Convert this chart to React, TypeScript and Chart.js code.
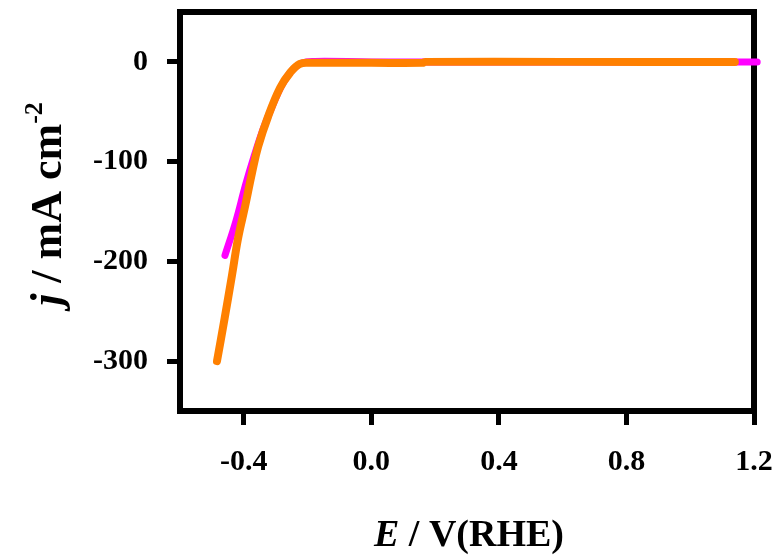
import React, { useEffect, useRef } from "react";
import { Chart, registerables } from "chart.js";

Chart.register(...registerables);

// Polarization curves (potential vs. current density)
const orangeE = [-0.484, -0.46, -0.437, -0.418, -0.396, -0.374, -0.355, -0.324, -0.286, -0.255, -0.224, -0.19, 0.0, 0.16, 0.17, 0.6, 1.14];
const orangeJ = [-300, -257, -214, -177, -145, -111, -85, -55, -26, -11, -2, -1, -1, -1, 0, 0, 0];

const magentaE = [-0.459, -0.425, -0.395, -0.368, -0.34, -0.31, -0.28, -0.25, -0.217, -0.177, 0.0, 0.4, 0.8, 1.21];
const magentaJ = [-194, -160, -124, -95, -68, -44, -23, -9, -1, 0.5, 0, 0, 0, 0];

const xTicks = [-0.4, 0.0, 0.4, 0.8, 1.2];
const yTicks = [0, -100, -200, -300];

const FONT = "'Liberation Serif', 'Times New Roman', serif";

const toPoints = (xs: number[], ys: number[]) => xs.map((x, i) => ({ x, y: ys[i] }));

const framePlugin = {
  id: "frame",
  beforeDatasetsDraw(chart: any) {
    const { ctx, chartArea } = chart;
    ctx.save();
    ctx.strokeStyle = "#000";
    ctx.lineWidth = 6;
    ctx.lineJoin = "miter";
    ctx.strokeRect(chartArea.left, chartArea.top, chartArea.right - chartArea.left, chartArea.bottom - chartArea.top);
    ctx.restore();
  },
};

const titlesPlugin = {
  id: "axisTitles",
  afterDraw(chart: any) {
    const { ctx, chartArea } = chart;
    ctx.save();
    ctx.fillStyle = "#000";
    ctx.textBaseline = "alphabetic";

    // x title: "E / V(RHE)"
    const xSize = 38;
    ctx.font = `italic bold ${xSize}px ${FONT}`;
    const e = "E";
    const eW = ctx.measureText(e).width;
    ctx.font = `bold ${xSize}px ${FONT}`;
    const rest = " / V(RHE)";
    const rW = ctx.measureText(rest).width;
    const cx = (chartArea.left + chartArea.right) / 2 + 2;
    const x0 = cx - (eW + rW) / 2;
    ctx.font = `italic bold ${xSize}px ${FONT}`;
    ctx.fillText(e, x0, 546);
    ctx.font = `bold ${xSize}px ${FONT}`;
    ctx.fillText(rest, x0 + eW, 546);

    // y title: "j / mA cm-2", rotated
    const ySize = 44;
    const supSize = 26;
    ctx.font = `italic bold ${ySize}px ${FONT}`;
    const jW = ctx.measureText("j").width;
    ctx.font = `bold ${ySize}px ${FONT}`;
    const mid = " / mA cm";
    const mW = ctx.measureText(mid).width;
    ctx.font = `bold ${supSize}px ${FONT}`;
    const sup = "-2";
    const sW = ctx.measureText(sup).width;
    const total = jW + mW + sW;
    ctx.translate(61, 204);
    ctx.rotate(-Math.PI / 2);
    let p = -total / 2;
    ctx.font = `italic bold ${ySize}px ${FONT}`;
    ctx.fillText("j", p, 0);
    p += jW;
    ctx.font = `bold ${ySize}px ${FONT}`;
    ctx.fillText(mid, p, 0);
    p += mW;
    ctx.font = `bold ${supSize}px ${FONT}`;
    ctx.fillText(sup, p, -19);
    ctx.restore();
  },
};

export default function App() {
  const canvasRef = useRef<HTMLCanvasElement | null>(null);

  useEffect(() => {
    document.body.style.margin = "0";
    const canvas = canvasRef.current;
    if (!canvas) return;
    const tickFont = { family: FONT, size: 30, weight: "bold" as const };
    const chart = new Chart(canvas, {
      type: "scatter",
      data: {
        datasets: [
          {
            data: toPoints(orangeE, orangeJ),
            showLine: true,
            borderColor: "#ff8000",
            borderWidth: 8,
            borderCapStyle: "round",
            borderJoinStyle: "round",
            pointRadius: 0,
            tension: 0.4,
          },
          {
            data: toPoints(magentaE, magentaJ),
            showLine: true,
            borderColor: "#ff00ff",
            borderWidth: 7,
            borderCapStyle: "round",
            borderJoinStyle: "round",
            pointRadius: 0,
            tension: 0.4,
            clip: false,
          },
        ],
      },
      options: {
        responsive: false,
        animation: false,
        events: [],
        layout: { padding: { left: 0, right: 29, top: 12, bottom: 0 } },
        plugins: { legend: { display: false }, tooltip: { enabled: false } },
        scales: {
          x: {
            type: "linear",
            min: -0.6,
            max: 1.2,
            afterFit: (s: any) => {
              s.height = 149;
              s.paddingLeft = 0;
              s.paddingRight = 0;
            },
            afterBuildTicks: (s: any) => {
              s.ticks = xTicks.map((v) => ({ value: v }));
            },
            border: { display: false },
            grid: {
              drawOnChartArea: false,
              drawTicks: true,
              tickLength: 14,
              tickWidth: 5,
              tickColor: "#000",
            },
            ticks: {
              color: "#000",
              font: tickFont,
              padding: 19,
              maxRotation: 0,
              callback: (v: any) => Number(v).toFixed(1),
            },
          },
          y: {
            type: "linear",
            min: -350,
            max: 50,
            afterFit: (s: any) => {
              s.width = 180;
              s.paddingTop = 0;
              s.paddingBottom = 0;
            },
            afterBuildTicks: (s: any) => {
              s.ticks = yTicks.map((v) => ({ value: v }));
            },
            border: { display: false },
            grid: {
              drawOnChartArea: false,
              drawTicks: true,
              tickLength: 13,
              tickWidth: 5,
              tickColor: "#000",
            },
            ticks: {
              color: "#000",
              font: tickFont,
              padding: 19,
              callback: (v: any) => String(v),
            },
          },
        },
      },
      plugins: [framePlugin, titlesPlugin],
    } as any);
    return () => chart.destroy();
  }, []);

  return (
    <div style={{ width: 783, height: 560, background: "#fff" }}>
      <canvas ref={canvasRef} width={783} height={560} style={{ display: "block" }} />
    </div>
  );
}
